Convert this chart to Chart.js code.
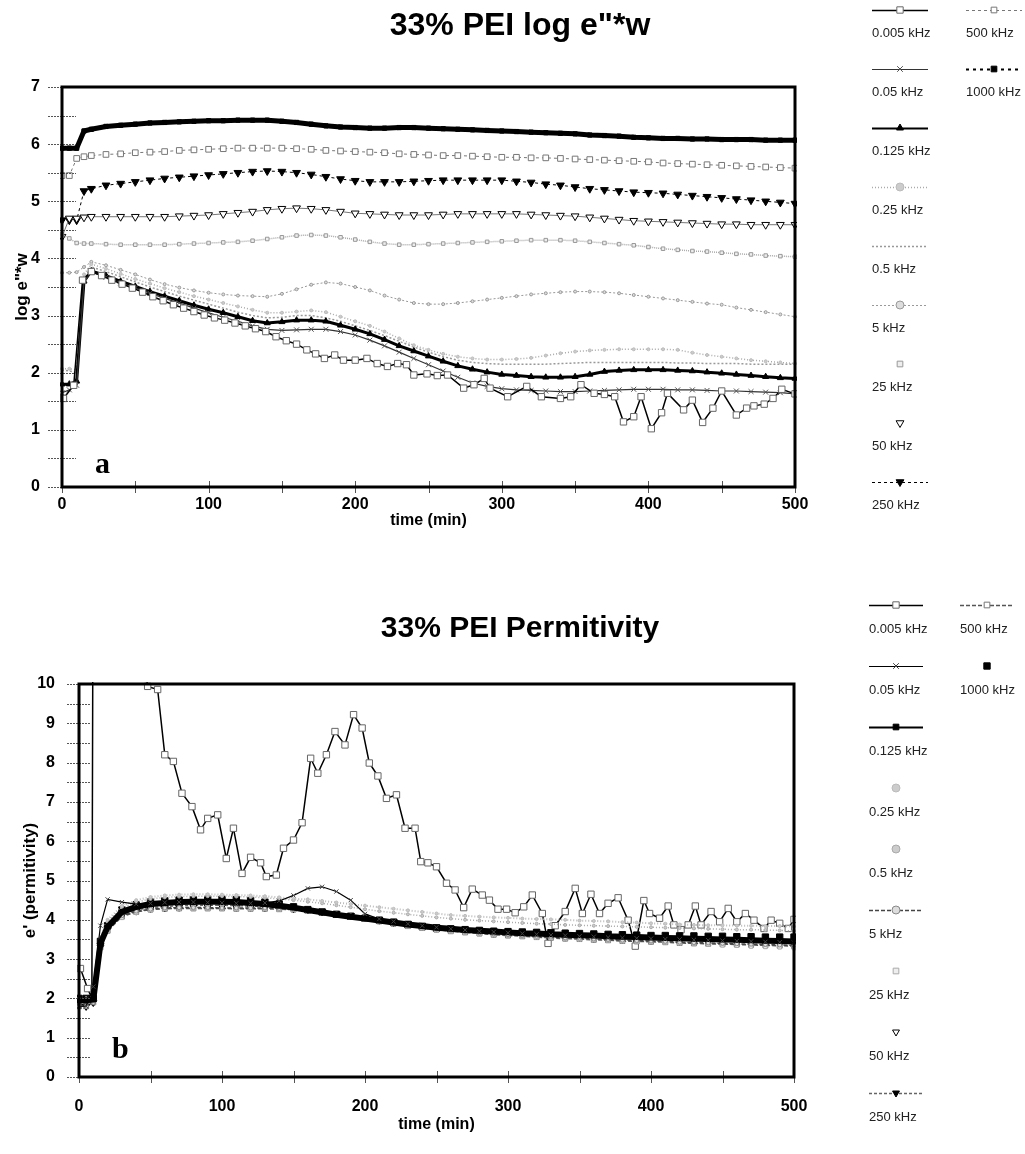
<!DOCTYPE html>
<html>
<head>
<meta charset="utf-8">
<title>33% PEI</title>
<script src="https://cdn.jsdelivr.net/npm/chart.js@4.4.1/dist/chart.umd.min.js"></script>
<style>
  body { margin: 0; background: #fff; }
  #wrap { position: relative; width: 1025px; height: 1154px; }
  canvas { position: absolute; left: 0; }
</style>
</head>
<body>
<div id="wrap">
  <canvas id="chartTop" width="1025" height="577" style="top:0"></canvas>
  <canvas id="chartBottom" width="1025" height="577" style="top:577px"></canvas>
</div>
<script>
// frequencies, same order in both panels
const freqLabels = ['0.005 kHz', '0.05 kHz', '0.125 kHz', '0.25 kHz', '0.5 kHz', '5 kHz',
                    '25 kHz', '50 kHz', '250 kHz', '500 kHz', '1000 kHz'];

// common sampling times (min)
const times = [0, 5, 10, 15, 20,
  30, 40, 50, 60, 70, 80, 90, 100, 110, 120,
  130, 140, 150, 160, 170, 180, 190, 200, 210, 220,
  230, 240, 250, 260, 270, 280, 290, 300, 310, 320,
  330, 340, 350, 360, 370, 380, 390, 400, 410, 420,
  430, 440, 450, 460, 470, 480, 490, 500];

// ---- panel a : log e''*w ----
const logW_0005_t = [1, 8, 14, 20, 27, 34, 41, 48, 55, 62,
  69, 76, 83, 90, 97, 104, 111, 118, 125, 132,
  139, 146, 153, 160, 167, 173, 179, 186, 192, 200,
  208, 215, 222, 229, 235, 240, 249, 256, 263, 274,
  281, 288, 292, 304, 317, 327, 340, 347, 354, 363,
  370, 377, 383, 390, 395, 402, 409, 413, 424, 430,
  437, 444, 450, 460, 467, 472, 479, 485, 491, 500];
const logW_0005 = [1.55, 1.78, 3.62, 3.77, 3.70, 3.62, 3.55, 3.48, 3.41, 3.33,
  3.26, 3.19, 3.13, 3.07, 3.01, 2.96, 2.92, 2.87, 2.82, 2.77,
  2.72, 2.63, 2.56, 2.50, 2.40, 2.33, 2.25, 2.31, 2.22, 2.22,
  2.25, 2.16, 2.11, 2.16, 2.14, 1.96, 1.98, 1.95, 1.96, 1.73,
  1.79, 1.90, 1.73, 1.58, 1.76, 1.58, 1.55, 1.58, 1.79, 1.64,
  1.62, 1.58, 1.14, 1.23, 1.58, 1.02, 1.30, 1.64, 1.35, 1.52,
  1.13, 1.38, 1.68, 1.26, 1.38, 1.42, 1.45, 1.55, 1.71, 1.63];

const logW_005 = [1.65, 1.70, 1.78, 3.60, 3.76,
  3.67, 3.57, 3.48, 3.39, 3.30, 3.22, 3.13, 3.05, 2.97, 2.90,
  2.82, 2.76, 2.74, 2.75, 2.76, 2.76, 2.72, 2.66, 2.57, 2.47,
  2.36, 2.25, 2.14, 2.03, 1.92, 1.82, 1.76, 1.72, 1.70, 1.69,
  1.68, 1.67, 1.67, 1.68, 1.69, 1.70, 1.71, 1.71, 1.71, 1.70,
  1.70, 1.69, 1.68, 1.68, 1.67, 1.66, 1.65, 1.63];
const logW_0125 = [1.80, 1.80, 1.85, 3.60, 3.78,
  3.70, 3.60, 3.51, 3.42, 3.34, 3.26, 3.18, 3.11, 3.05, 2.98,
  2.91, 2.87, 2.89, 2.92, 2.92, 2.90, 2.83, 2.76, 2.68, 2.58,
  2.47, 2.38, 2.29, 2.20, 2.12, 2.06, 2.01, 1.97, 1.95, 1.93,
  1.92, 1.92, 1.93, 1.97, 2.02, 2.04, 2.05, 2.05, 2.05, 2.04,
  2.03, 2.01, 1.99, 1.97, 1.95, 1.93, 1.91, 1.90];
const logW_025 = [2.07, 2.07, 2.05, 3.72, 3.90,
  3.82, 3.73, 3.64, 3.56, 3.48, 3.41, 3.34, 3.28, 3.22, 3.16,
  3.10, 3.05, 3.05, 3.07, 3.09, 3.06, 2.98, 2.90, 2.82, 2.72,
  2.60, 2.48, 2.40, 2.33, 2.28, 2.25, 2.23, 2.23, 2.24, 2.26,
  2.30, 2.34, 2.37, 2.39, 2.40, 2.41, 2.41, 2.41, 2.41, 2.40,
  2.35, 2.31, 2.28, 2.25, 2.22, 2.20, 2.18, 2.16];
const logW_05 = [2.05, 2.03, 2.00, 3.65, 3.85,
  3.77, 3.68, 3.59, 3.50, 3.42, 3.34, 3.27, 3.20, 3.13, 3.06,
  3.00, 2.96, 2.97, 3.00, 3.00, 2.96, 2.90, 2.82, 2.74, 2.65,
  2.55, 2.45, 2.36, 2.28, 2.22, 2.18, 2.16, 2.15, 2.15, 2.15,
  2.15, 2.16, 2.17, 2.18, 2.18, 2.18, 2.18, 2.18, 2.18, 2.17,
  2.17, 2.16, 2.16, 2.16, 2.15, 2.15, 2.15, 2.15];
const logW_5 = [3.75, 3.75, 3.76, 3.85, 3.94,
  3.88, 3.80, 3.72, 3.63, 3.55, 3.49, 3.44, 3.40, 3.37, 3.35,
  3.34, 3.33, 3.38, 3.46, 3.54, 3.58, 3.56, 3.50, 3.44, 3.35,
  3.28, 3.22, 3.20, 3.20, 3.22, 3.25, 3.28, 3.31, 3.34, 3.37,
  3.39, 3.41, 3.42, 3.42, 3.41, 3.39, 3.36, 3.33, 3.30, 3.27,
  3.24, 3.21, 3.19, 3.14, 3.10, 3.06, 3.02, 2.98];
const logW_25 = [4.42, 4.35, 4.27, 4.26, 4.26,
  4.25, 4.24, 4.24, 4.24, 4.24, 4.25, 4.26, 4.27, 4.28, 4.29,
  4.31, 4.34, 4.37, 4.40, 4.41, 4.40, 4.37, 4.33, 4.29, 4.26,
  4.24, 4.24, 4.25, 4.26, 4.27, 4.28, 4.29, 4.30, 4.31, 4.32,
  4.32, 4.32, 4.31, 4.29, 4.27, 4.25, 4.23, 4.20, 4.17, 4.15,
  4.13, 4.12, 4.10, 4.08, 4.07, 4.05, 4.04, 4.03];
const logW_50 = [4.38, 4.70, 4.70, 4.72, 4.73,
  4.73, 4.73, 4.73, 4.73, 4.73, 4.74, 4.75, 4.76, 4.78, 4.80,
  4.82, 4.85, 4.87, 4.88, 4.87, 4.85, 4.82, 4.79, 4.78, 4.77,
  4.76, 4.76, 4.76, 4.77, 4.78, 4.78, 4.78, 4.78, 4.78, 4.77,
  4.76, 4.75, 4.74, 4.72, 4.70, 4.68, 4.66, 4.65, 4.64, 4.63,
  4.62, 4.61, 4.60, 4.60, 4.59, 4.59, 4.59, 4.59];
const logW_250 = [4.67, 4.67, 4.67, 5.18, 5.22,
  5.28, 5.31, 5.34, 5.37, 5.40, 5.42, 5.44, 5.46, 5.48, 5.50,
  5.52, 5.53, 5.52, 5.50, 5.47, 5.43, 5.39, 5.36, 5.34, 5.34,
  5.34, 5.35, 5.36, 5.37, 5.37, 5.37, 5.37, 5.37, 5.35, 5.33,
  5.30, 5.28, 5.25, 5.22, 5.20, 5.18, 5.16, 5.15, 5.14, 5.12,
  5.10, 5.08, 5.06, 5.04, 5.02, 5.00, 4.98, 4.96];
const logW_500 = [5.45, 5.45, 5.75, 5.78, 5.80,
  5.82, 5.83, 5.85, 5.86, 5.87, 5.89, 5.90, 5.91, 5.92, 5.93,
  5.93, 5.93, 5.93, 5.92, 5.91, 5.89, 5.88, 5.87, 5.86, 5.85,
  5.83, 5.82, 5.81, 5.80, 5.80, 5.79, 5.78, 5.77, 5.77, 5.76,
  5.76, 5.75, 5.74, 5.73, 5.72, 5.71, 5.70, 5.69, 5.67, 5.66,
  5.65, 5.64, 5.63, 5.62, 5.61, 5.60, 5.59, 5.58];
const logW_1000 = [5.93, 5.93, 5.93, 6.23, 6.26,
  6.31, 6.33, 6.35, 6.37, 6.38, 6.39, 6.40, 6.41, 6.41, 6.42,
  6.42, 6.42, 6.40, 6.38, 6.35, 6.32, 6.30, 6.29, 6.28, 6.28,
  6.29, 6.29, 6.28, 6.27, 6.26, 6.25, 6.24, 6.23, 6.22, 6.21,
  6.20, 6.19, 6.18, 6.16, 6.15, 6.14, 6.12, 6.11, 6.10, 6.10,
  6.09, 6.09, 6.08, 6.08, 6.08, 6.07, 6.07, 6.07];

// ---- panel b : permittivity e' ----
const perm_0005_t = [1, 6, 9, 12, 18, 24, 30, 36, 42, 48,
  55, 60, 66, 72, 79, 85, 90, 97, 103, 108,
  114, 120, 127, 131, 138, 143, 150, 156, 162, 167,
  173, 179, 186, 192, 198, 203, 209, 215, 222, 228,
  235, 239, 244, 250, 257, 263, 269, 275, 282, 287,
  293, 299, 305, 311, 317, 324, 328, 333, 340, 347,
  352, 358, 364, 370, 377, 384, 389, 395, 399,
  406, 412, 416, 421, 426, 431, 435, 442, 448, 454,
  460, 466, 472, 479, 484, 490, 496, 500];
const perm_0005 = [2.76, 2.25, 2.00, 42, 30, 24, 18, 14, 11.5, 9.94,
  9.86, 8.20, 8.03, 7.22, 6.88, 6.29, 6.58, 6.67, 5.56, 6.33,
  5.18, 5.59, 5.45, 5.10, 5.14, 5.82, 6.03, 6.47, 8.11, 7.73,
  8.20, 8.79, 8.45, 9.22, 8.88, 7.99, 7.66, 7.09, 7.18, 6.33,
  6.33, 5.48, 5.45, 5.35, 4.93, 4.76, 4.31, 4.78, 4.63, 4.50,
  4.27, 4.27, 4.18, 4.33, 4.63, 4.16, 3.40, 3.85, 4.21, 4.80,
  4.16, 4.65, 4.16, 4.42, 4.56, 3.99, 3.33, 4.49, 4.16,
  4.04, 4.35, 3.87, 3.75, 3.87, 4.35, 3.87, 4.21, 3.95, 4.29,
  3.95, 4.16, 3.99, 3.78, 3.99, 3.91, 3.78, 4.01];

const perm_005 = [1.80, 1.80, 2.30, 3.85, 4.52,
  4.45, 4.40, 4.42, 4.44, 4.45, 4.45, 4.44, 4.43, 4.42, 4.42,
  4.43, 4.48, 4.62, 4.80, 4.84, 4.72, 4.50, 4.15, 4.02, 3.96,
  3.90, 3.85, 3.81, 3.77, 3.74, 3.71, 3.69, 3.67, 3.65, 3.63,
  3.61, 3.60, 3.58, 3.57, 3.55, 3.54, 3.53, 3.52, 3.51, 3.50,
  3.49, 3.48, 3.47, 3.46, 3.45, 3.44, 3.43, 3.42];
const perm_0125 = [1.95, 1.95, 1.97, 3.40, 3.82,
  4.20, 4.33, 4.40, 4.43, 4.45, 4.46, 4.46, 4.46, 4.45, 4.43,
  4.40, 4.36, 4.31, 4.25, 4.19, 4.13, 4.08, 4.03, 3.98, 3.93,
  3.88, 3.84, 3.80, 3.77, 3.74, 3.72, 3.70, 3.68, 3.66, 3.65,
  3.63, 3.62, 3.61, 3.60, 3.58, 3.57, 3.56, 3.55, 3.54, 3.53,
  3.52, 3.51, 3.50, 3.49, 3.48, 3.47, 3.46, 3.45];
const perm_025 = [2.00, 2.00, 2.05, 3.55, 4.00,
  4.35, 4.50, 4.58, 4.62, 4.64, 4.65, 4.65, 4.64, 4.63, 4.62,
  4.60, 4.57, 4.53, 4.52, 4.48, 4.44, 4.40, 4.36, 4.32, 4.28,
  4.24, 4.20, 4.16, 4.12, 4.10, 4.08, 4.06, 4.05, 4.03, 4.02,
  4.01, 4.00, 3.98, 3.97, 3.96, 3.94, 3.93, 3.91, 3.90, 3.88,
  3.87, 3.86, 3.86, 3.85, 3.85, 3.84, 3.84, 3.83];
const perm_05 = [2.00, 2.00, 2.05, 3.50, 3.95,
  4.30, 4.45, 4.53, 4.57, 4.59, 4.60, 4.60, 4.60, 4.59, 4.58,
  4.56, 4.53, 4.50, 4.46, 4.42, 4.37, 4.32, 4.27, 4.22, 4.18,
  4.14, 4.10, 4.06, 4.03, 4.00, 3.98, 3.96, 3.94, 3.92, 3.90,
  3.89, 3.87, 3.86, 3.85, 3.84, 3.83, 3.82, 3.81, 3.80, 3.79,
  3.78, 3.77, 3.76, 3.75, 3.75, 3.74, 3.73, 3.72];
const perm_5 = [1.80, 1.80, 1.90, 3.30, 3.75,
  4.10, 4.22, 4.27, 4.30, 4.31, 4.31, 4.31, 4.30, 4.30, 4.30,
  4.30, 4.29, 4.27, 4.24, 4.20, 4.15, 4.10, 4.04, 3.98, 3.92,
  3.86, 3.81, 3.77, 3.73, 3.70, 3.67, 3.64, 3.62, 3.60, 3.58,
  3.56, 3.54, 3.53, 3.51, 3.50, 3.48, 3.47, 3.46, 3.45, 3.43,
  3.42, 3.41, 3.40, 3.39, 3.38, 3.37, 3.36, 3.35];
const perm_25 = [1.80, 1.80, 1.90, 3.30, 3.70,
  4.05, 4.18, 4.24, 4.27, 4.28, 4.28, 4.28, 4.28, 4.27, 4.27,
  4.27, 4.26, 4.25, 4.22, 4.18, 4.13, 4.07, 4.01, 3.95, 3.89,
  3.83, 3.78, 3.74, 3.70, 3.67, 3.64, 3.61, 3.59, 3.57, 3.55,
  3.53, 3.51, 3.50, 3.48, 3.47, 3.45, 3.44, 3.43, 3.42, 3.40,
  3.39, 3.37, 3.35, 3.34, 3.32, 3.31, 3.30, 3.28];
const perm_50 = [1.80, 1.80, 1.90, 3.30, 3.75,
  4.10, 4.22, 4.28, 4.30, 4.32, 4.33, 4.33, 4.33, 4.32, 4.32,
  4.31, 4.30, 4.28, 4.25, 4.21, 4.16, 4.11, 4.05, 3.99, 3.93,
  3.88, 3.83, 3.79, 3.75, 3.72, 3.69, 3.66, 3.64, 3.62, 3.60,
  3.58, 3.56, 3.55, 3.53, 3.52, 3.50, 3.49, 3.48, 3.47, 3.45,
  3.44, 3.43, 3.42, 3.41, 3.40, 3.39, 3.38, 3.37];
const perm_250 = [1.80, 1.80, 1.90, 3.35, 3.78,
  4.12, 4.25, 4.31, 4.34, 4.36, 4.37, 4.37, 4.37, 4.36, 4.35,
  4.34, 4.32, 4.29, 4.25, 4.21, 4.16, 4.11, 4.06, 4.01, 3.96,
  3.91, 3.86, 3.82, 3.78, 3.75, 3.72, 3.70, 3.67, 3.65, 3.63,
  3.61, 3.60, 3.58, 3.57, 3.55, 3.54, 3.53, 3.52, 3.50, 3.49,
  3.48, 3.47, 3.46, 3.45, 3.44, 3.43, 3.42, 3.41];
const perm_500 = [1.80, 1.80, 1.90, 3.30, 3.72,
  4.08, 4.20, 4.26, 4.28, 4.29, 4.29, 4.29, 4.29, 4.28, 4.28,
  4.28, 4.27, 4.26, 4.23, 4.19, 4.14, 4.08, 4.02, 3.96, 3.90,
  3.84, 3.79, 3.75, 3.71, 3.68, 3.65, 3.62, 3.60, 3.58, 3.56,
  3.54, 3.52, 3.51, 3.49, 3.48, 3.46, 3.45, 3.44, 3.43, 3.41,
  3.40, 3.39, 3.38, 3.37, 3.36, 3.35, 3.34, 3.33];
const perm_1000 = [2.00, 2.00, 2.00, 3.45, 3.85,
  4.25, 4.38, 4.45, 4.48, 4.50, 4.51, 4.52, 4.52, 4.51, 4.49,
  4.45, 4.40, 4.33, 4.26, 4.20, 4.14, 4.09, 4.04, 3.99, 3.94,
  3.88, 3.83, 3.79, 3.77, 3.75, 3.73, 3.71, 3.70, 3.69, 3.68,
  3.67, 3.66, 3.65, 3.64, 3.63, 3.62, 3.61, 3.60, 3.60, 3.59,
  3.59, 3.58, 3.58, 3.57, 3.57, 3.56, 3.56, 3.56];

// tick labels
const xTicks = [0, 100, 200, 300, 400, 500];

Chart.defaults.font.family = '"Liberation Sans", Arial, sans-serif';
Chart.defaults.color = '#000';

// line / marker look of each frequency
const topStyles = [
  { borderColor: '#000', borderWidth: 1.5, pointStyle: 'rect', pointRadius: 4.5, pointBackgroundColor: '#fff', pointBorderColor: '#666', pointBorderWidth: 1 },
  { borderColor: '#333', borderWidth: 1.2, pointStyle: 'crossRot', pointRadius: 3.5, pointBackgroundColor: '#555', pointBorderColor: '#555', pointBorderWidth: 1 },
  { borderColor: '#000', borderWidth: 3, pointStyle: 'triangle', pointRadius: 3.5, pointBackgroundColor: '#000', pointBorderColor: '#000', pointBorderWidth: 1 },
  { borderColor: '#aaa', borderWidth: 1.5, borderDash: [1, 2], pointStyle: 'circle', pointRadius: 1.5, pointBackgroundColor: '#ccc', pointBorderColor: '#bbb', pointBorderWidth: 1 },
  { borderColor: '#999', borderWidth: 1.5, borderDash: [2, 2], pointRadius: 0 },
  { borderColor: '#999', borderWidth: 1, borderDash: [2, 2], pointStyle: 'circle', pointRadius: 1.5, pointBackgroundColor: '#ddd', pointBorderColor: '#999', pointBorderWidth: 1 },
  { borderColor: '#aaa', borderWidth: 1.5, borderDash: [1, 1], pointStyle: 'rect', pointRadius: 2.5, pointBackgroundColor: '#eee', pointBorderColor: '#999', pointBorderWidth: 1 },
  { borderColor: '#777', borderWidth: 1, pointStyle: 'triangle', pointRotation: 180, pointRadius: 4.5, pointBackgroundColor: '#fff', pointBorderColor: '#000', pointBorderWidth: 1 },
  { borderColor: '#000', borderWidth: 1, borderDash: [3, 3], pointStyle: 'triangle', pointRotation: 180, pointRadius: 4.5, pointBackgroundColor: '#000', pointBorderColor: '#000', pointBorderWidth: 1 },
  { borderColor: '#777', borderWidth: 1, borderDash: [3, 3], pointStyle: 'rect', pointRadius: 4, pointBackgroundColor: '#fff', pointBorderColor: '#777', pointBorderWidth: 1 },
  { borderColor: '#000', borderWidth: 5, pointStyle: 'rect', pointRadius: 3, pointBackgroundColor: '#000', pointBorderColor: '#000', pointBorderWidth: 1 }
];
const bottomStyles = [
  { borderColor: '#000', borderWidth: 1.5, pointStyle: 'rect', pointRadius: 4.5, pointBackgroundColor: '#fff', pointBorderColor: '#666', pointBorderWidth: 1, order: 20 },
  { borderColor: '#000', borderWidth: 1.2, pointStyle: 'crossRot', pointRadius: 3, pointBackgroundColor: '#444', pointBorderColor: '#444', pointBorderWidth: 1 },
  { borderColor: '#000', borderWidth: 6, pointStyle: 'rect', pointRadius: 3, pointBackgroundColor: '#000', pointBorderColor: '#000', pointBorderWidth: 1 },
  { borderColor: '#bbb', borderWidth: 2, borderDash: [1, 2], pointStyle: 'circle', pointRadius: 1.5, pointBackgroundColor: '#ccc', pointBorderColor: '#bbb', pointBorderWidth: 1 },
  { borderColor: '#aaa', borderWidth: 1.5, borderDash: [1, 2], pointStyle: 'circle', pointRadius: 1.5, pointBackgroundColor: '#ccc', pointBorderColor: '#aaa', pointBorderWidth: 1 },
  { borderColor: '#444', borderWidth: 1.5, borderDash: [4, 2], pointStyle: 'circle', pointRadius: 2, pointBackgroundColor: '#ddd', pointBorderColor: '#888', pointBorderWidth: 1 },
  { showLine: false, pointStyle: 'rect', pointRadius: 2.5, pointBackgroundColor: '#eee', pointBorderColor: '#aaa', pointBorderWidth: 1 },
  { showLine: false, pointStyle: 'triangle', pointRotation: 180, pointRadius: 4, pointBackgroundColor: '#fff', pointBorderColor: '#000', pointBorderWidth: 1 },
  { borderColor: '#666', borderWidth: 1.5, borderDash: [3, 2], pointStyle: 'triangle', pointRotation: 180, pointRadius: 4, pointBackgroundColor: '#000', pointBorderColor: '#000', pointBorderWidth: 1 },
  { borderColor: '#555', borderWidth: 1.5, borderDash: [4, 2], pointStyle: 'rect', pointRadius: 3.5, pointBackgroundColor: '#fff', pointBorderColor: '#777', pointBorderWidth: 1 },
  { showLine: false, pointStyle: 'rect', pointRadius: 4.5, pointBackgroundColor: '#000', pointBorderColor: '#000', pointBorderWidth: 1 }
];

function pairs(xs, ys) {
  return xs.map((t, i) => ({ x: t, y: ys[i] }));
}

function buildSets(series, styles) {
  return series.map(([xs, ys], i) => Object.assign({
    label: freqLabels[i],
    data: pairs(xs, ys),
    tension: 0,
    clip: 2
  }, styles[i]));
}

// frame, minor ticks, panel letter and heading
const decor = {
  id: 'decor',
  afterDraw(chart, args, opts) {
    const { ctx, chartArea: a, scales: { x, y } } = chart;
    ctx.save();
    ctx.strokeStyle = '#555';
    ctx.lineWidth = 1;
    ctx.setLineDash([2, 1]);
    for (let v = y.min; v <= y.max + 1e-9; v += 0.5) {
      const py = Math.round(y.getPixelForValue(v)) + 0.5;
      ctx.beginPath();
      ctx.moveTo(a.left - opts.yTick, py);
      ctx.lineTo(a.left + opts.yTick, py);
      ctx.stroke();
    }
    ctx.setLineDash([]);
    for (let v = x.min; v <= x.max; v += 50) {
      const px = Math.round(x.getPixelForValue(v)) + 0.5;
      ctx.beginPath();
      ctx.moveTo(px, a.bottom - 6);
      ctx.lineTo(px, a.bottom + 6);
      ctx.stroke();
    }
    ctx.strokeStyle = '#000';
    ctx.lineWidth = 3;
    ctx.strokeRect(a.left, a.top, a.right - a.left, a.bottom - a.top);

    ctx.fillStyle = '#000';
    ctx.textBaseline = 'alphabetic';
    ctx.font = 'bold 30px "Liberation Serif", serif';
    ctx.fillText(opts.letter, a.left + 33, a.bottom - opts.letterLift);

    ctx.font = 'bold ' + opts.titleSize + 'px "Liberation Sans", Arial, sans-serif';
    ctx.textAlign = 'center';
    ctx.fillText(opts.title, 520, opts.titleY);
    ctx.restore();
  }
};

// legend on the right: sample line + marker, label below
const sideLegend = {
  id: 'sideLegend',
  afterDraw(chart, args, opts) {
    const ctx = chart.ctx;
    chart.data.datasets.forEach((ds, i) => {
      const col = i < 9 ? 0 : 1;
      const row = i < 9 ? i : i - 9;
      const x0 = opts.cols[col];
      const y0 = opts.top + row * opts.step;
      const cx = x0 + opts.sampleW / 2;
      ctx.save();
      if (ds.showLine !== false && !opts.lineless.includes(i)) {
        ctx.strokeStyle = ds.borderColor;
        ctx.lineWidth = Math.min(ds.borderWidth, 2);
        ctx.setLineDash(opts.dashed.includes(i) ? [3, 4] : (ds.borderDash || []));
        ctx.beginPath();
        ctx.moveTo(x0, y0 + 0.5);
        ctx.lineTo(x0 + opts.sampleW, y0 + 0.5);
        ctx.stroke();
        ctx.setLineDash([]);
      }
      if (ds.pointRadius > 0) {
        ctx.fillStyle = ds.pointBackgroundColor;
        ctx.strokeStyle = ds.pointBorderColor;
        ctx.lineWidth = ds.pointBorderWidth || 1;
        Chart.helpers.drawPoint(ctx, {
          pointStyle: ds.pointStyle,
          rotation: ds.pointRotation || 0,
          radius: Math.max(ds.pointRadius, 4),
          borderWidth: ds.pointBorderWidth || 1
        }, cx, y0);
      }
      ctx.fillStyle = '#222';
      ctx.font = '13px "Liberation Sans", Arial, sans-serif';
      ctx.textBaseline = 'middle';
      ctx.textAlign = 'left';
      ctx.fillText(ds.label, x0, y0 + opts.labelGap);
      ctx.restore();
    });
  }
};

function makeChart(id, datasets, cfg) {
  return new Chart(document.getElementById(id), {
    type: 'line',
    data: { datasets },
    options: {
      responsive: false,
      animation: false,
      devicePixelRatio: 1,
      layout: { padding: cfg.padding },
      plugins: {
        legend: { display: false },
        tooltip: { enabled: false },
        decor: cfg.decor,
        sideLegend: cfg.legend
      },
      scales: {
        x: {
          type: 'linear', min: 0, max: 500,
          grid: { display: false }, border: { display: false },
          afterBuildTicks: s => { s.ticks = xTicks.map(v => ({ value: v })); },
          ticks: { padding: cfg.xPad, font: { weight: 'bold', size: 16 }, color: '#000' },
          title: { display: true, text: 'time (min)', font: { weight: 'bold', size: 16 }, color: '#000', padding: { top: 0, bottom: cfg.xTitlePad } },
          afterFit: s => { s.height = 60; }
        },
        y: {
          type: 'linear', min: 0, max: cfg.yMax,
          grid: { display: false }, border: { display: false },
          ticks: { stepSize: 1, padding: cfg.yPad, font: { weight: 'bold', size: 16 }, color: '#000' },
          title: { display: true, text: cfg.yTitle, font: { weight: 'bold', size: 17 }, color: '#000', padding: { top: cfg.yTitlePad, bottom: 0 } },
          afterFit: s => { s.width = cfg.yWidth; }
        }
      }
    },
    plugins: [decor, sideLegend]
  });
}

makeChart('chartTop', buildSets([
  [logW_0005_t, logW_0005], [times, logW_005], [times, logW_0125], [times, logW_025],
  [times, logW_05], [times, logW_5], [times, logW_25], [times, logW_50],
  [times, logW_250], [times, logW_500], [times, logW_1000]
], topStyles), {
  padding: { top: 87, right: 230, left: 0, bottom: 30 },
  yMax: 7, yWidth: 62, yPad: 14, xPad: 0, xTitlePad: 17, yTitlePad: 12,
  yTitle: 'log e"*w',
  decor: { letter: 'a', letterLift: 14, title: '33% PEI log e"*w', titleSize: 32, titleY: 35, yTick: 14 },
  legend: { cols: [872, 966], top: 10, step: 59, sampleW: 56, labelGap: 23, lineless: [6, 7], dashed: [10] }
});

makeChart('chartBottom', buildSets([
  [perm_0005_t, perm_0005], [times, perm_005], [times, perm_0125], [times, perm_025],
  [times, perm_05], [times, perm_5], [times, perm_25], [times, perm_50],
  [times, perm_250], [times, perm_500], [times, perm_1000]
], bottomStyles), {
  padding: { top: 107, right: 231, left: 0, bottom: 17 },
  yMax: 10, yWidth: 79, yPad: 16, xPad: 12, xTitlePad: 3, yTitlePad: 20,
  yTitle: "e' (permitivity)",
  decor: { letter: 'b', letterLift: 19, title: '33% PEI Permitivity', titleSize: 30, titleY: 60, yTick: 12 },
  legend: { cols: [869, 960], top: 28, step: 61, sampleW: 54, labelGap: 24, lineless: [3, 4], dashed: [] }
});
</script>
</body>
</html>
